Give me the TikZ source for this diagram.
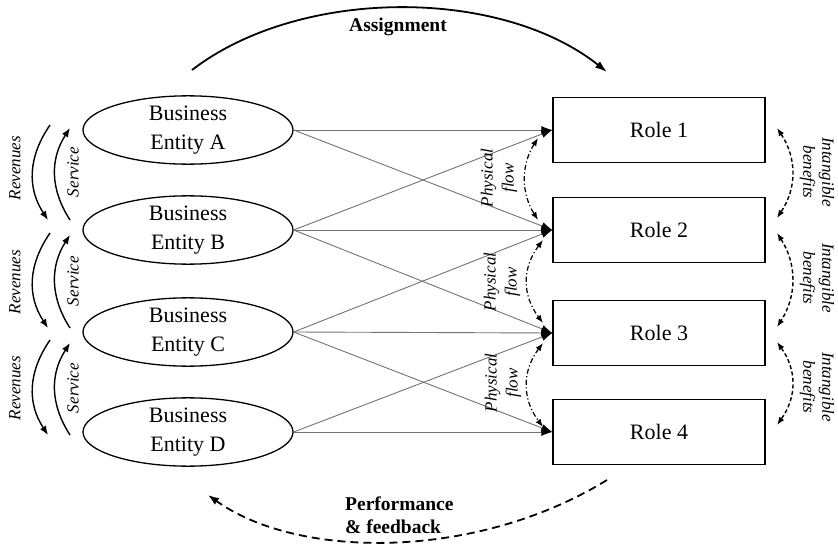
\documentclass[tikz,border=0pt]{standalone}
\usepackage{fontspec}
\setmainfont{Liberation Serif}
\usetikzlibrary{arrows.meta,shapes.geometric,calc}
\begin{document}
\begin{tikzpicture}[x=1pt,y=-1pt,
  ent/.style={ellipse,draw,line width=1.3pt,minimum width=210pt,minimum height=67pt,inner sep=0pt,align=center,font=\fontsize{22}{29}\selectfont},
  role/.style={rectangle,draw,line width=1.3pt,minimum width=212pt,minimum height=65pt,inner sep=0pt,font=\fontsize{22}{26}\selectfont},
  flowline/.style={draw=black!55,line width=0.9pt,-{Latex[length=11pt,width=8pt,color=black]}},
  smalllab/.style={font=\fontsize{17}{20}\selectfont\itshape,align=center,inner sep=0pt},
  boldlab/.style={font=\fontsize{19.5}{23}\selectfont\bfseries,inner sep=0pt},
  sidearrow/.style={line width=1.4pt,-{Latex[length=9pt,width=7pt]}},
  dashdotarrow/.style={line width=1.2pt,dash pattern=on 5pt off 2.5pt on 1.2pt off 2.5pt,{Latex[length=8pt,width=6pt]}-{Latex[length=8pt,width=6pt]}},
  dasharrow/.style={line width=1.4pt,dash pattern=on 4pt off 2.5pt,{Latex[length=8pt,width=6pt]}-{Latex[length=8pt,width=6pt]}},
]
\path[use as bounding box,fill=white] (0,0) rectangle (838,548);

% entities
\node[ent] (e1) at (188,130) {Business\\Entity A};
\node[ent] (e2) at (188,230) {Business\\Entity B};
\node[ent] (e3) at (188,332) {Business\\Entity C};
\node[ent] (e4) at (188,432) {Business\\Entity D};

% roles
\node[role] (r1) at (659,130) {Role 1};
\node[role] (r2) at (659,230) {Role 2};
\node[role] (r3) at (659,333) {Role 3};
\node[role] (r4) at (659,432) {Role 4};

% physical flows
\draw[flowline] (e1.east) -- (r1.west);
\draw[flowline] (e1.east) -- (r2.west);
\draw[flowline] (e2.east) -- (r1.west);
\draw[flowline] (e2.east) -- (r2.west);
\draw[flowline] (e2.east) -- (r3.west);
\draw[flowline] (e3.east) -- (r2.west);
\draw[flowline] (e3.east) -- (r3.west);
\draw[flowline] (e3.east) -- (r4.west);
\draw[flowline] (e4.east) -- (r3.west);
\draw[flowline] (e4.east) -- (r4.west);

% left side revenue / service arrows
\coordinate (rv1s) at (50,125); \coordinate (rv1e) at (48,220);
\coordinate (sv1s) at (70,220); \coordinate (sv1e) at (70,128);
\coordinate (rv2s) at (50,233); \coordinate (rv2e) at (48,328);
\coordinate (sv2s) at (70,328); \coordinate (sv2e) at (70,235);
\coordinate (rv3s) at (50,340); \coordinate (rv3e) at (48,435);
\coordinate (sv3s) at (70,435); \coordinate (sv3e) at (70,343);
\draw[sidearrow] (rv1s) .. controls (28,157) and (27,188) .. (rv1e);
\draw[sidearrow] (sv1s) .. controls (50,189) and (50,159) .. (sv1e);
\draw[sidearrow] (rv2s) .. controls (28,265) and (27,296) .. (rv2e);
\draw[sidearrow] (sv2s) .. controls (50,297) and (50,266) .. (sv2e);
\draw[sidearrow] (rv3s) .. controls (28,372) and (27,403) .. (rv3e);
\draw[sidearrow] (sv3s) .. controls (50,404) and (50,374) .. (sv3e);

\node[smalllab,rotate=90] (rvl1) at (15,168) {Revenues};
\node[smalllab,rotate=90] (rvl2) at (15,282) {Revenues};
\node[smalllab,rotate=90] (rvl3) at (15,388) {Revenues};
\node[smalllab,rotate=90] (svl1) at (73,172) {Service};
\node[smalllab,rotate=90] (svl2) at (73,281) {Service};
\node[smalllab,rotate=90] (svl3) at (73,388) {Service};

% dash-dot arrows between roles
\coordinate (dd1s) at (538,138); \coordinate (dd1e) at (538,220);
\coordinate (dd2s) at (543,240); \coordinate (dd2e) at (543,323);
\coordinate (dd3s) at (543,343); \coordinate (dd3e) at (543,427);
\draw[dashdotarrow] (dd1s) .. controls (521,165) and (521,193) .. (dd1e);
\draw[dashdotarrow] (dd2s) .. controls (522,268) and (522,295) .. (dd2e);
\draw[dashdotarrow] (dd3s) .. controls (522,371) and (522,399) .. (dd3e);

\node[smalllab,rotate=90,font=\fontsize{17}{21}\selectfont\itshape] (pf1) at (499,178) {Physical\\flow};
\node[smalllab,rotate=90,font=\fontsize{17}{21}\selectfont\itshape] (pf2) at (502,282) {Physical\\flow};
\node[smalllab,rotate=90,font=\fontsize{17}{21}\selectfont\itshape] (pf3) at (503,383) {Physical\\flow};

% intangible benefits
\coordinate (ib1s) at (777,128); \coordinate (ib1e) at (777,218);
\coordinate (ib2s) at (777,233); \coordinate (ib2e) at (777,327);
\coordinate (ib3s) at (777,342); \coordinate (ib3e) at (777,425);
\draw[dasharrow] (ib1s) .. controls (797,158) and (797,188) .. (ib1e);
\draw[dasharrow] (ib2s) .. controls (797,264) and (797,296) .. (ib2e);
\draw[dasharrow] (ib3s) .. controls (797,370) and (797,397) .. (ib3e);

\node[smalllab,rotate=-90,font=\fontsize{17}{19}\selectfont\itshape] (ibl1) at (817,172) {Intangible\\benefits};
\node[smalllab,rotate=-90,font=\fontsize{17}{19}\selectfont\itshape] (ibl2) at (817,278) {Intangible\\benefits};
\node[smalllab,rotate=-90,font=\fontsize{17}{19}\selectfont\itshape] (ibl3) at (817,387) {Intangible\\benefits};

% assignment arc
\coordinate (asgs) at (192,70); \coordinate (asge) at (607,72);
\draw[line width=1.8pt,-{Latex[length=12pt,width=8pt]}] (asgs) .. controls (300,-13) and (500,-13) .. (asge);
\node[boldlab] (asg) at (398,27) {Assignment};

% performance & feedback arc
\coordinate (pfbs) at (607,480); \coordinate (pfbe) at (208,495);
\draw[line width=1.8pt,dash pattern=on 8pt off 5pt,-{Latex[length=11pt,width=8pt]}] (pfbs) .. controls (477,560) and (299,560) .. (pfbe);
\node[boldlab,align=left,anchor=west] (pfb) at (345,515) {Performance\\\& feedback};
\end{tikzpicture}
\end{document}
